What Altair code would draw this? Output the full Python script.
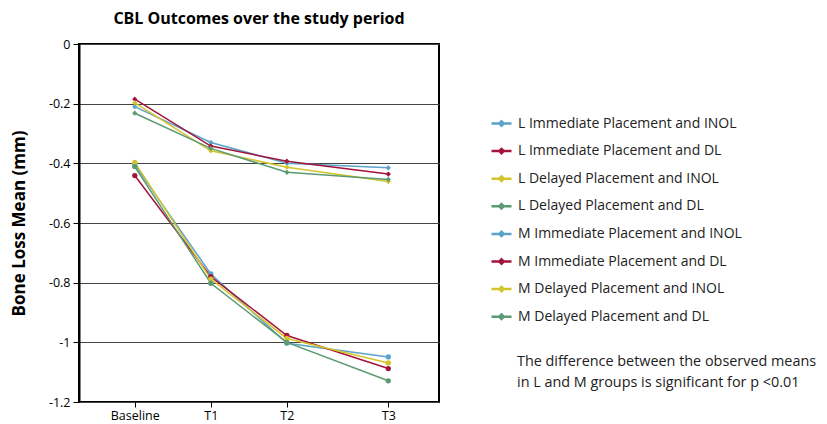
import altair as alt
import pandas as pd

# ---- data ----
time_labels = ["Baseline", "T1", "T2", "T3"]
time_values = [0, 3, 6, 10]  # relative timing of the visits

series_names = [
    "L Immediate Placement and INOL",
    "L Immediate Placement and DL",
    "L Delayed Placement and INOL",
    "L Delayed Placement and DL",
    "M Immediate Placement and INOL",
    "M Immediate Placement and DL",
    "M Delayed Placement and INOL",
    "M Delayed Placement and DL",
]
L_IP_INOL = [-0.210, -0.330, -0.400, -0.415]
L_IP_DL = [-0.185, -0.342, -0.393, -0.436]
L_DP_INOL = [-0.197, -0.358, -0.413, -0.461]
L_DP_DL = [-0.232, -0.350, -0.430, -0.454]
M_IP_INOL = [-0.405, -0.771, -1.003, -1.049]
M_IP_DL = [-0.441, -0.780, -0.977, -1.088]
M_DP_INOL = [-0.397, -0.788, -0.987, -1.069]
M_DP_DL = [-0.411, -0.802, -1.000, -1.129]
series_values = [L_IP_INOL, L_IP_DL, L_DP_INOL, L_DP_DL,
                 M_IP_INOL, M_IP_DL, M_DP_INOL, M_DP_DL]

colors = ["#5ba3c9", "#a3143b", "#d3c42b", "#5b9a72"] * 2
note_lines = ["The difference between the observed means",
              "in L and M groups is significant for p <0.01"]

rows = []
for name, vals in zip(series_names, series_values):
    for lab, t, v in zip(time_labels, time_values, vals):
        rows.append({"series": name, "group": name[0], "time": t,
                     "label": lab, "value": v})
df = pd.DataFrame(rows)

label_expr = " : ".join(
    [f"datum.value == {t} ? '{l}'" for t, l in zip(time_values, time_labels)]
) + " : ''"

FONT = "Open Sans"

x_enc = alt.X(
    "time:Q",
    scale=alt.Scale(domain=[-2.2, 12], nice=False, zero=False),
    axis=alt.Axis(values=time_values, labelExpr=label_expr, title=None,
                  grid=False, domain=False, tickColor="black", tickSize=5,
                  tickWidth=1, labelFontSize=12.5, labelColor="black",
                  labelFont=FONT, labelPadding=2),
)
y_enc = alt.Y(
    "value:Q",
    scale=alt.Scale(domain=[-1.2, 0], nice=False),
    axis=alt.Axis(values=[0, -0.2, -0.4, -0.6, -0.8, -1.0, -1.2],
                  labelExpr="datum.value == 0 ? '0' : '-' + format(abs(datum.value), '~g')",
                  title="Bone Loss Mean (mm)", titleFontSize=17,
                  titleFont=FONT, titleFontWeight="bold", titleColor="black",
                  titlePadding=20, grid=True, gridColor="#444444",
                  gridWidth=1, domain=True, domainColor="black",
                  domainWidth=2, tickColor="black", tickSize=6,
                  labelFontSize=12.5, labelColor="black", labelFont=FONT,
                  labelPadding=3),
)
color_enc = alt.Color(
    "series:N",
    scale=alt.Scale(domain=series_names, range=colors),
    sort=series_names,
    legend=alt.Legend(
        title=None, orient="none", legendX=411, legendY=68,
        symbolType="M-1,0L1,0M0,-0.22L0.22,0L0,0.22L-0.22,0Z",
        symbolSize=400, symbolStrokeWidth=2.5, labelFontSize=14,
        labelFont=FONT, labelColor="#222222", labelOffset=5,
        rowPadding=8.6, labelLimit=400,
    ),
)

base = alt.Chart(df)
lines = base.mark_line(strokeWidth=1.5).encode(
    x=x_enc, y=y_enc, color=color_enc, detail="series:N")
points = base.mark_point(filled=True, size=28, opacity=1).encode(
    x=x_enc, y=y_enc,
    color=alt.Color("series:N", scale=alt.Scale(domain=series_names, range=colors), legend=None),
    shape=alt.Shape("group:N", scale=alt.Scale(domain=["L", "M"], range=["diamond", "circle"]), legend=None),
)
note = alt.Chart(pd.DataFrame({"n": [0]})).mark_text(
    text=note_lines, align="left", baseline="middle", fontSize=14.4,
    font=FONT, color="#222222", lineHeight=21,
).encode(x=alt.value(438), y=alt.value(318))

chart = alt.layer(lines, points, note).properties(
    width=360, height=358,
    title=alt.TitleParams("CBL Outcomes over the study period", fontSize=16,
                          font=FONT, fontWeight="bold", color="black",
                          offset=11, anchor="middle"),
    autosize=alt.AutoSizeParams(type="none"),
    padding={"left": 71, "top": 36, "right": 380, "bottom": 22},
).configure_view(stroke="black", strokeWidth=2)

chart.save("out.html", embed_options={"renderer": "svg", "actions": False})
